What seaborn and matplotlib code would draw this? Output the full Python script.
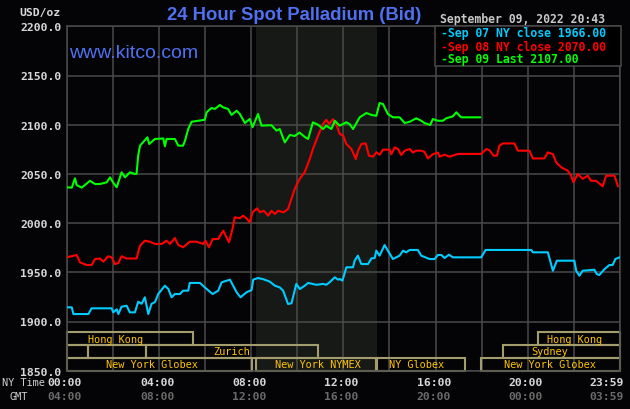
import pandas as pd
import matplotlib
matplotlib.use('Agg')
import matplotlib.pyplot as plt
from matplotlib.patches import Rectangle
import seaborn as sns

# NY-time hours and bid prices (USD/oz)
sep07_hours = [0, 0.22, 0.29, 0.94, 1.08, 1.95, 2.02, 2.17, 2.24, 2.38, 2.6, 2.74, 2.96, 3.1, 3.25, 3.39,
               3.54, 3.68, 3.83, 3.97, 4.26, 4.41, 4.55, 4.69, 4.91, 5.05, 5.27, 5.34, 5.78, 5.99, 6.33,
               6.57, 6.72, 7.08, 7.22, 7.37, 7.54, 7.8, 8.02, 8.09, 8.3, 8.52, 8.81, 9.03, 9.24, 9.39,
               9.6, 9.75, 9.96, 10.11, 10.33, 10.47, 10.83, 11.12, 11.26, 11.41, 11.63, 11.77, 11.84,
               11.96, 12.13, 12.42, 12.49, 12.63, 12.78, 13.07, 13.22, 13.36, 13.43, 13.57, 13.79, 13.93,
               14.15, 14.44, 14.59, 14.73, 14.88, 15.23, 15.38, 15.74, 15.96, 16.1, 16.25, 16.39, 16.58,
               16.75, 17.98, 18.17, 20.15, 20.22, 20.87, 20.97, 21.09, 21.26, 22.02, 22.1, 22.24, 22.38,
               22.89, 22.99, 23.1, 23.33, 23.54, 23.68, 23.8, 23.98]
sep07_prices = [1914.4, 1914.4, 1907.6, 1907.6, 1913.4, 1913.4, 1909.3, 1912.4, 1907.6, 1915, 1916, 1909.3,
                1909.3, 1920.1, 1918, 1924.6, 1907.6, 1918, 1919.7, 1927.9, 1936.4, 1933, 1924.6, 1927.9,
                1927.9, 1931.3, 1931.3, 1939.2, 1939.2, 1934.7, 1927.9, 1931.3, 1939.8, 1942.5, 1936.4,
                1929.7, 1924.6, 1929.7, 1932, 1942.5, 1944.2, 1943, 1940.5, 1936.4, 1934.7, 1931.3, 1917.8,
                1918.5, 1938.2, 1933, 1936.4, 1939.2, 1937.3, 1938.2, 1937.3, 1940, 1944.9, 1942.5, 1943.2,
                1941.5, 1955.1, 1955.1, 1961.8, 1966.9, 1958.4, 1958.4, 1964.2, 1964.5, 1972, 1966.9,
                1977.7, 1972, 1963.5, 1966.9, 1972, 1970.3, 1972.7, 1972.7, 1966.9, 1963.5, 1963.5, 1967.6,
                1967.6, 1964.5, 1967.9, 1965.2, 1965.2, 1972.7, 1972.7, 1970.3, 1970.3, 1961.8, 1951.6,
                1961.8, 1961.8, 1951.6, 1946.5, 1951.6, 1952.6, 1948.3, 1947.2, 1953.3, 1957.4, 1957.4,
                1963.5, 1965.2]

sep08_hours = [0, 0.43, 0.58, 0.87, 1.08, 1.23, 1.44, 1.59, 1.8, 1.95, 2.09, 2.24, 2.38, 2.6, 3.03, 3.18,
               3.39, 3.61, 3.83, 4.12, 4.33, 4.48, 4.69, 4.84, 5.05, 5.34, 5.63, 5.92, 6.02, 6.17, 6.33,
               6.57, 6.79, 6.93, 7.04, 7.19, 7.29, 7.51, 7.65, 7.8, 7.94, 8.06, 8.26, 8.38, 8.55, 8.74,
               8.88, 9.03, 9.17, 9.41, 9.6, 9.89, 10.1, 10.32, 10.54, 10.68, 10.9, 11.12, 11.26, 11.38,
               11.55, 11.7, 11.84, 11.99, 12.13, 12.35, 12.54, 12.64, 12.78, 12.97, 13.11, 13.29, 13.43,
               13.57, 13.72, 14.01, 14.08, 14.23, 14.37, 14.51, 14.66, 14.88, 15.02, 15.16, 15.38, 15.52,
               15.67, 15.88, 16.1, 16.17, 16.39, 16.61, 16.97, 17.98, 18.2, 18.34, 18.52, 18.66, 18.77,
               18.92, 19.42, 19.57, 20.07, 20.22, 20.72, 20.87, 21.09, 21.23, 21.45, 21.73, 21.88, 21.98,
               22.17, 22.38, 22.6, 22.74, 22.96, 23.25, 23.4, 23.76, 23.91]
sep08_prices = [1965.2, 1967.6, 1960, 1957.4, 1957.4, 1963.5, 1964, 1960.8, 1966.3, 1965.2, 1958.4, 1959.4,
                1966.3, 1964, 1964, 1977, 1982.1, 1981, 1978.8, 1978.8, 1982.1, 1978.8, 1984.9, 1977.8,
                1975.4, 1981.1, 1981.1, 1978.8, 1982.1, 1975.4, 1983.8, 1983.8, 1992.3, 1985.6, 1980.5,
                1994, 2005.9, 2004.9, 2007.5, 2004.9, 2000.8, 2011, 2015, 2011, 2012.5, 2007.5, 2012.5,
                2009.3, 2012.5, 2011, 2014.3, 2034.6, 2044.8, 2051.6, 2065, 2075.3, 2088.8, 2100.7, 2105,
                2100.7, 2105.5, 2100, 2090.6, 2089, 2080.4, 2075.3, 2065, 2073.6, 2080.4, 2081, 2068.5,
                2067.5, 2072, 2069.5, 2074.6, 2074.6, 2070, 2077, 2075.3, 2069.2, 2073.6, 2075.3, 2071.7,
                2073.6, 2073.6, 2072.4, 2065.7, 2070, 2071.7, 2067.5, 2069.5, 2067.5, 2070.3, 2070.3,
                2075.3, 2074, 2068.5, 2068.5, 2078.7, 2081, 2081, 2073.6, 2073.6, 2065.7, 2065.7, 2071.9,
                2070, 2061.8, 2056.7, 2053.3, 2048.2, 2041.5, 2050, 2045, 2048.2, 2043, 2043, 2037.4,
                2048.2, 2048.2, 2037.4]

sep09_hours = [0, 0.22, 0.36, 0.43, 0.65, 1.01, 1.23, 1.44, 1.73, 1.88, 2.02, 2.17, 2.38, 2.53, 2.74,
               2.96, 3.03, 3.1, 3.18, 3.5, 3.58, 3.83, 4.19, 4.26, 4.33, 4.69, 4.84, 5.05, 5.13, 5.27,
               5.42, 5.99, 6.07, 6.28, 6.43, 6.64, 6.79, 7.0, 7.15, 7.37, 7.51, 7.73, 7.94, 8.06, 8.3,
               8.45, 8.88, 9.1, 9.24, 9.46, 9.68, 9.89, 10.1, 10.33, 10.47, 10.68, 10.9, 11.12, 11.26,
               11.48, 11.63, 11.84, 12.13, 12.28, 12.42, 12.71, 13.0, 13.22, 13.43, 13.57, 13.72, 13.93,
               14.15, 14.44, 14.66, 14.88, 15.16, 15.38, 15.52, 15.77, 15.88, 16.1, 16.32, 16.46, 16.75,
               16.9, 17.11, 17.94]
sep09_prices = [2036.4, 2036, 2045.5, 2038.7, 2036, 2043, 2039.7, 2039.7, 2041.4, 2046.5, 2041, 2036.4,
                2051.6, 2046.5, 2051.6, 2050, 2050, 2068.5, 2078.7, 2087.2, 2080.4, 2085.5, 2086, 2078,
                2085.5, 2085.5, 2078.7, 2078.7, 2083.7, 2095.6, 2103, 2105, 2112.6, 2117, 2116, 2120,
                2117.6, 2116, 2109.9, 2114.2, 2110.9, 2101.7, 2105.8, 2097.4, 2110.9, 2099, 2099.5, 2094,
                2095.6, 2082, 2089.6, 2088.5, 2092, 2087.5, 2085.5, 2102.4, 2100, 2095.6, 2099, 2095.6,
                2104, 2099, 2102.4, 2100.5, 2095.6, 2107.5, 2111.9, 2109.9, 2109, 2122, 2121, 2110.9,
                2107.5, 2107.5, 2101.7, 2103, 2106.5, 2104, 2101.7, 2099.7, 2105.8, 2104, 2104, 2106.5,
                2108.5, 2112.6, 2107.5, 2107.5]

series_names = ['Sep 07', 'Sep 08', 'Sep 09']
series_colors = ['#00ccff', '#ff0000', '#00ff00']
legend_labels = ['Sep 07 NY close 1966.00', 'Sep 08 NY close 2070.00', 'Sep 09 Last 2107.00']

y_ticks = [1850, 1900, 1950, 2000, 2050, 2100, 2150, 2200]
label_hours = [0, 4, 8, 12, 16, 20, 24]
ny_labels = ['00:00', '04:00', '08:00', '12:00', '16:00', '20:00', '23:59']
gmt_labels = ['04:00', '08:00', '12:00', '16:00', '20:00', '00:00', '03:59']

# trading sessions: (row from top, start hour, end hour, label)
sessions = [
    (0, 0, 5.46, 'Hong Kong'), (0, 20.43, 24, 'Hong Kong'),
    (1, 0, 0.94, ''), (1, 0.94, 3.45, ''), (1, 3.45, 10.9, 'Zurich'), (1, 18.92, 24, 'Sydney'),
    (2, 0, 8.02, 'New York Globex'), (2, 8.23, 13.43, 'New York NYMEX'),
    (2, 13.47, 17.27, 'NY Globex'), (2, 17.98, 24, 'New York Globex'),
]
session_label_hours = [0.92, 20.84, None, None, 6.34, 20.15, 1.69, 9.04, 13.98, 18.96]
nymex_floor = (8.23, 13.47)

df = pd.concat([
    pd.DataFrame({'hour': h, 'price': p, 'series': n})
    for h, p, n in zip([sep07_hours, sep08_hours, sep09_hours],
                       [sep07_prices, sep08_prices, sep09_prices], series_names)
], ignore_index=True)

bg = '#040406'
grid_c = '#4a4a4a'
mono = 'DejaVu Sans Mono'

sns.set_style('dark')
fig = plt.figure(figsize=(6.3, 4.1), dpi=100, facecolor=bg)
ax = fig.add_axes([66.7 / 630, 1 - 371.7 / 410, 553.3 / 630, 344.4 / 410])
ax.set_facecolor(bg)

ax.axvspan(*nymex_floor, color='#171916', zorder=0.2, lw=0)

sns.lineplot(data=df, x='hour', y='price', hue='series', palette=dict(zip(series_names, series_colors)),
             estimator=None, sort=False, legend=False, linewidth=1.5, ax=ax, zorder=3)

ax.set_xlim(0, 24)
ax.set_ylim(1850, 2200)
ax.set_xticks(range(0, 25, 2))
ax.set_xticklabels([])
ax.set_yticks(y_ticks)
ax.set_yticklabels([f'{v:.1f}' for v in y_ticks], fontfamily=mono, fontweight='bold', fontsize=8.2,
                   color='#d8d8d8')
ax.tick_params(length=0, pad=4)
ax.set_xlabel('')
ax.set_ylabel('')
ax.set_axisbelow(True)
ax.grid(True, color=grid_c, lw=1.1)
for s in ax.spines.values():
    s.set_color(grid_c)
    s.set_linewidth(1.1)

# session boxes along the bottom
row_edges = [1889, 1876.4, 1863.2, 1850]
for (row, start, end, name), lx in zip(sessions, session_label_hours):
    top, bot = row_edges[row], row_edges[row + 1]
    ax.add_patch(Rectangle((start, bot), end - start, top - bot, fill=False, edgecolor='#a39d6e',
                           lw=1.5, zorder=1.5, clip_on=False))
    if name:
        ax.text(lx, (top + bot) / 2, name, ha='left', va='center', fontfamily=mono, fontsize=7.4,
                color='#ffc400', zorder=2)

# time axis labels
for h, ny, gmt in zip(label_hours, ny_labels, gmt_labels):
    ha = 'right' if h == 24 else 'center'
    xh = 24.18 if h == 24 else h - 0.08
    ax.text(xh, -0.033, ny, transform=ax.get_xaxis_transform(), ha=ha, va='center',
            fontfamily=mono, fontweight='bold', fontsize=8.2, color='#d8d8d8')
    ax.text(xh, -0.074, gmt, transform=ax.get_xaxis_transform(), ha=ha, va='center',
            fontfamily=mono, fontweight='bold', fontsize=8.2, color='#6a6a6a')
fig.text(23 / 630, 1 - 383 / 410, 'NY Time', ha='center', va='center', fontfamily=mono, fontsize=7.4,
         color='#d0d0d0')
fig.text(19 / 630, 1 - 397 / 410, 'GMT', ha='center', va='center', fontfamily=mono, fontsize=7.4,
         color='#d0d0d0')

fig.text(61 / 630, 1 - 13 / 410, 'USD/oz', ha='right', va='center', fontfamily=mono, fontweight='bold',
         fontsize=8.2, color='#d8d8d8')
fig.text(294 / 630, 1 - 15 / 410, '24 Hour Spot Palladium (Bid)', ha='center', va='center',
         fontfamily='Liberation Sans', fontweight='bold', fontsize=13.3, color='#4f70f0')
ax.text(69 / 630, 1 - 54 / 410, 'www.kitco.com', transform=fig.transFigure, ha='left', va='center',
        fontfamily='Liberation Sans', fontsize=14, color='#4f70f0', zorder=4)
fig.text(440 / 630, 1 - 19 / 410, 'September 09, 2022 20:43', ha='left', va='center', fontfamily=mono,
         fontweight='bold', fontsize=8.3, color='#c8c8c8')

# legend panel in the top-right corner
fig.patches.append(Rectangle((435 / 630, 1 - 66.7 / 410), 185.5 / 630, 39.4 / 410, transform=fig.transFigure,
                             facecolor='#000000', edgecolor=grid_c, lw=1.1, zorder=5))
for i, (lab, col) in enumerate(zip(legend_labels, series_colors)):
    fig.text(441 / 630, 1 - (34 + 13 * i) / 410, '-' + lab, ha='left', va='center', fontfamily=mono,
             fontweight='bold', fontsize=8.3, color=col, zorder=6)

fig.savefig('out.png', dpi=100, facecolor=bg)
